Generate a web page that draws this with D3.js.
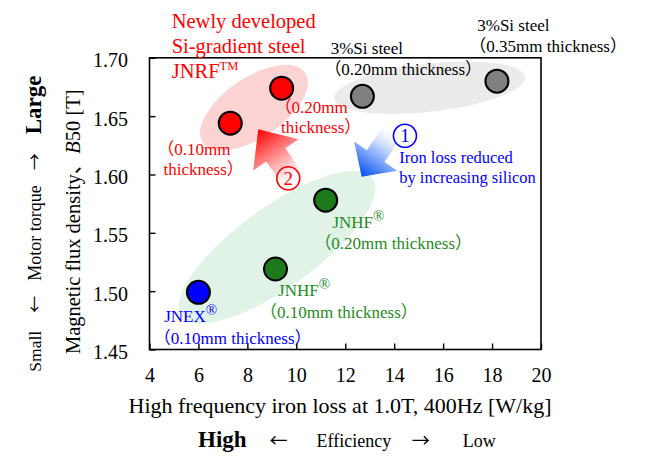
<!DOCTYPE html>
<html>
<head>
<meta charset="utf-8">
<script src="https://cdn.jsdelivr.net/npm/d3@7"></script>
<style>
  body { margin: 0; background: #fff; }
  svg { display: block; }
  text { font-family: "Liberation Serif", "Times New Roman", "Noto Sans CJK JP", serif; }
  .arw { font-family: "Noto Sans CJK JP", sans-serif; }
</style>
</head>
<body>
<svg id="chart"></svg>
<script>
// データ
var materials = ["JNRF 0.10mm", "JNRF 0.20mm", "3%Si 0.20mm", "3%Si 0.35mm", "JNHF 0.20mm", "JNHF 0.10mm", "JNEX 0.10mm"];
var ironLoss = [7.3, 9.4, 12.7, 18.2, 11.2, 9.15, 6.0];
var fluxDensity = [1.644, 1.674, 1.667, 1.680, 1.578, 1.519, 1.499];
var family = ["JNRF", "JNRF", "Si", "Si", "JNHF", "JNHF", "JNEX"];
var labelLines = [
  ["（0.10mm", "thickness）"],
  ["（0.20mm", "thickness）"],
  ["3%Si steel", "（0.20mm thickness）"],
  ["3%Si steel", "（0.35mm thickness）"],
  ["JNHF®", "（0.20mm thickness）"],
  ["JNHF®", "（0.10mm thickness）"],
  ["JNEX®", "（0.10mm thickness）"]
];
var xTicks = [4, 6, 8, 10, 12, 14, 16, 18, 20];
var yTicks = [1.45, 1.50, 1.55, 1.60, 1.65, 1.70];

// 色
var fill = {JNRF: "#ff0000", Si: "#808080", JNHF: "#1c7a1c", JNEX: "#0000ff"};
var textColor = {JNRF: "#ff0000", Si: "#000000", JNHF: "#228b22", JNEX: "#0000ff"};

// ラベルの位置（点からのずれ, px）
var labelOffset = [
  [[-65, 31.7], [-66.7, 51.7]],
  [[1, 25], [-0.6, 45]],
  [[-31.7, -42.7], [-30, -21]],
  [[-19.7, -50], [-19.7, -29]],
  [[6.7, 27.6], [-3.3, 49.3]],
  [[2.6, 27.4], [-7.4, 49]],
  [[-34.3, 30], [-36.6, 51.7]]
];

// 囲み楕円: 対象の点, 半径, 色
var halos = [
  {members: [0, 1], a: 62, b: 30, dx: -2, dy: 2, color: "#fcd3d3"},
  {members: [2, 3], a: 96, b: 24, dx: 0, dy: -1, color: "#ebebeb"},
  {members: [6, 4], a: 118, b: 40, dx: 15, dy: 1, color: "#e1f3e7"}
];

var margin = {top: 57.8, right: 114, bottom: 117.5, left: 149.5};
var W = 655, H = 467;
var width = W - margin.left - margin.right;
var height = H - margin.top - margin.bottom;

var root = d3.select("#chart").attr("width", W).attr("height", H);
var defs = root.append("defs");
var svg = root.append("g")
  .attr("transform", "translate(" + margin.left + "," + margin.top + ")");

var xScale = d3.scaleLinear().domain([4, 20]).range([0, width]);
var yScale = d3.scaleLinear().domain([1.45, 1.70]).range([height, 0]);

// 楕円
halos.forEach(function(h) {
  var p = h.members.map(function(i) { return [xScale(ironLoss[i]), yScale(fluxDensity[i])]; });
  var cx = (p[0][0] + p[1][0]) / 2 + h.dx;
  var cy = (p[0][1] + p[1][1]) / 2 + h.dy;
  var ang = Math.atan2(p[1][1] - p[0][1], p[1][0] - p[0][0]) * 180 / Math.PI;
  svg.append("ellipse")
    .attr("cx", 0).attr("cy", 0)
    .attr("rx", h.a).attr("ry", h.b)
    .attr("transform", "translate(" + cx + "," + cy + ") rotate(" + ang + ")")
    .attr("fill", h.color);
});

// 矢印
var arrows = [
  {id: "gRed", tip: [8.446, 1.6387], angle: -124.5, hl: 31, hw: 27.5, sw: 11.6, sl: 36,
   stops: [[0, "#ffffff", 0], [0.35, "#ffc0c0", 1], [1, "#ff0000", 1]]},
  {id: "gBlue", tip: [12.67, 1.598], angle: 124.1, hl: 25, hw: 26, sw: 10.6, sl: 34,
   stops: [[0, "#ffffff", 0], [0.4, "#c0d2ff", 1], [1, "#0050f0", 1]]}
];
arrows.forEach(function(a) {
  var L = a.sl + a.hl;
  var g = defs.append("linearGradient").attr("id", a.id)
    .attr("gradientUnits", "userSpaceOnUse")
    .attr("x1", 0).attr("y1", 0).attr("x2", L).attr("y2", 0);
  a.stops.forEach(function(s) {
    g.append("stop").attr("offset", s[0]).attr("stop-color", s[1]).attr("stop-opacity", s[2]);
  });
  var tx = xScale(a.tip[0]), ty = yScale(a.tip[1]);
  svg.append("path")
    .attr("d", "M0," + (-a.sw) + "L" + a.sl + "," + (-a.sw) + "L" + a.sl + "," + (-a.hw) +
      "L" + L + ",0L" + a.sl + "," + a.hw + "L" + a.sl + "," + a.sw + "L0," + a.sw + "Z")
    .attr("transform", "translate(" + tx + "," + ty + ") rotate(" + a.angle + ") translate(" + (-L) + ",0)")
    .attr("fill", "url(#" + a.id + ")");
});

// 枠
svg.append("rect")
  .attr("width", width).attr("height", height)
  .attr("fill", "none").attr("stroke", "#000").attr("stroke-width", 1.6);

// x軸
var xAxis = d3.axisBottom(xScale).tickValues(xTicks).tickSizeInner(-6).tickSizeOuter(0)
  .tickPadding(18).tickFormat(d3.format("d"));
var gx = svg.append("g").attr("transform", "translate(0," + height + ")").call(xAxis);

// y軸
var yAxis = d3.axisLeft(yScale).tickValues(yTicks).tickSizeInner(-6).tickSizeOuter(0)
  .tickPadding(21.5).tickFormat(d3.format(".2f"));
var gy = svg.append("g").call(yAxis);

[gx, gy].forEach(function(g) {
  g.select(".domain").remove();
  g.selectAll(".tick line").attr("stroke", "#000").attr("stroke-width", 1.4);
  g.selectAll(".tick text")
    .attr("fill", "#000")
    .style("font-family", "'Liberation Serif', 'Times New Roman', serif")
    .style("font-size", "20px");
});
gy.selectAll(".tick text").attr("dy", "0.45em");

// 点
svg.selectAll("circle.pt")
  .data(materials)
  .enter().append("circle")
  .attr("class", "pt")
  .attr("cx", function(d, i) { return xScale(ironLoss[i]); })
  .attr("cy", function(d, i) { return yScale(fluxDensity[i]); })
  .attr("r", 11.5)
  .attr("fill", function(d, i) { return fill[family[i]]; })
  .attr("stroke", "#000")
  .attr("stroke-width", 2);

// 点のラベル
materials.forEach(function(m, i) {
  var px = xScale(ironLoss[i]), py = yScale(fluxDensity[i]);
  labelLines[i].forEach(function(line, k) {
    var off = labelOffset[i][k];
    var shift = line.charAt(0) === "（" ? -8 : 0;
    var t = svg.append("text")
      .attr("x", px + off[0] + shift)
      .attr("y", py + off[1])
      .attr("fill", textColor[family[i]])
      .style("font-size", "17px");
    if (line.slice(-1) === "®") {
      t.append("tspan").text(line.slice(0, -1));
      t.append("tspan").attr("dy", -7).style("font-size", "15px").text("®");
    } else {
      t.text(line);
    }
  });
});

// 赤の見出し
var redTitle = [["Newly developed", 28.3], ["Si-gradient steel", 53.3], ["JNRF", 77.7]];
redTitle.forEach(function(r, k) {
  var t = svg.append("text")
    .attr("x", 171.7 - margin.left).attr("y", r[1] - margin.top)
    .attr("fill", "#ff0000").style("font-size", "20.5px").text(r[0]);
  if (k === 2) {
    t.append("tspan").attr("dy", -8).style("font-size", "12.5px").text("TM");
  }
});

// 丸数字
function circledNumber(cx, cy, num, color) {
  svg.append("circle")
    .attr("cx", cx).attr("cy", cy).attr("r", 11.5)
    .attr("fill", "none").attr("stroke", color).attr("stroke-width", 1.6);
  svg.append("text")
    .attr("x", cx).attr("y", cy + 6.5)
    .attr("text-anchor", "middle")
    .attr("fill", color).style("font-size", "19px")
    .text(num);
}
var redTip = [xScale(arrows[0].tip[0]), yScale(arrows[0].tip[1])];
var blueTip = [xScale(arrows[1].tip[0]), yScale(arrows[1].tip[1])];
circledNumber(redTip[0] + 30, redTip[1] + 49, "2", "#ff0000");
circledNumber(blueTip[0] + 43.3, blueTip[1] - 41, "1", "#0000ff");
["Iron loss reduced", "by increasing silicon"].forEach(function(s, k) {
  svg.append("text")
    .attr("x", blueTip[0] + 37.6).attr("y", blueTip[1] - 13.4 + k * 20)
    .attr("fill", "#0000ff").style("font-size", "16.5px").text(s);
});

// 軸タイトル
root.append("text")
  .attr("x", 340).attr("y", 413.3)
  .attr("text-anchor", "middle")
  .style("font-size", "22px")
  .text("High frequency iron loss at 1.0T, 400Hz [W/kg]");

var eff = root.append("text").attr("x", 198).attr("y", 447.3);
eff.append("tspan").style("font-size", "23px").style("font-weight", "bold").text("High");
eff.append("tspan").attr("class", "arw").attr("dx", 23).style("font-size", "18px").text("←");
eff.append("tspan").attr("dx", 29).style("font-size", "18px").text("Efficiency");
eff.append("tspan").attr("class", "arw").attr("dx", 20.5).style("font-size", "18px").text("→");
eff.append("tspan").attr("dx", 33).style("font-size", "18px").text("Low");

var yt = root.append("text")
  .attr("transform", "translate(80,221.7) rotate(-90)")
  .attr("text-anchor", "middle")
  .style("font-size", "20.5px");
yt.append("tspan").text("Magnetic flux density、");
yt.append("tspan").style("font-style", "italic").text("B");
yt.append("tspan").text("50 [T]");

var tq = root.append("text")
  .attr("transform", "translate(41,371.7) rotate(-90)");
tq.append("tspan").style("font-size", "17.5px").text("Small");
tq.append("tspan").attr("class", "arw").attr("dx", 18).style("font-size", "17px").text("←");
tq.append("tspan").attr("dx", 15).style("font-size", "18px").text("Motor torque");
tq.append("tspan").attr("class", "arw").attr("dx", 15).style("font-size", "17px").text("→");
tq.append("tspan").attr("dx", 19).style("font-size", "23px").style("font-weight", "bold").text("Large");
</script>
</body>
</html>
